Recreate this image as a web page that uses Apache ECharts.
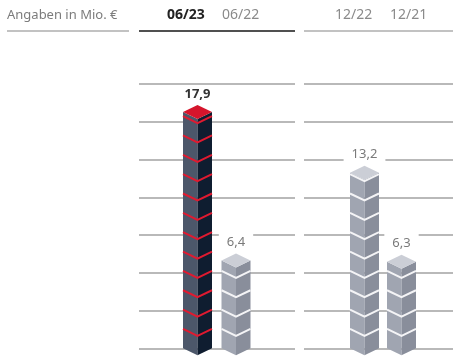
<!DOCTYPE html>
<html>
<head>
<meta charset="utf-8">
<script src="https://cdn.jsdelivr.net/npm/echarts@6/dist/echarts.min.js"></script>
<style>
html,body{margin:0;padding:0;background:#fff;}
#chart{width:453px;height:363px;}
</style>
</head>
<body>
<div id="chart"></div>
<script>
// ---- data ----
const unitLabel = 'Angaben in Mio. €';
const catsH1 = ['06/23', '06/22'];
const valsH1 = [17.9, 6.4];
const catsFY = ['12/22', '12/21'];
const valsFY = [13.2, 6.3];
const gridSteps = 7;        // decorative horizontal rules (0..7)
const cubeValue = 1.5;      // value represented by one cube

// ---- styles ----
const FONT = '"Noto Sans", "Open Sans", sans-serif';
const darkCube = { left: '#4c576a', right: '#0f1d30', top: '#d5152c', seam: '#e01a30', label: '#333333', bold: true, box: false };
const lightCube = { left: '#a0a5b1', right: '#898e9b', top: '#cbced6', seam: '#f4f4f6', label: '#7a7a7a', bold: false, box: true };
const palH1 = [darkCube, lightCube];
const palFY = [lightCube, lightCube];

function fmt(v) { return v.toFixed(1).replace('.', ','); }

function makeRender(palette) {
  return function (params, api) {
    const p = palette[params.dataIndex];
    const v = api.value(1);
    const pt = api.coord([api.value(0), v]);
    const cs = params.coordSys;
    const baseY = cs.y + cs.height;
    const step = api.size([0, cubeValue])[1];
    const hw = 14.5, d = 7;
    const x = pt[0], yt = pt[1];
    const topV = yt - d;
    const children = [];
    const labelEl = {
      type: 'text',
      style: {
        text: fmt(v), x: x, y: topV, align: 'center', verticalAlign: 'bottom',
        fill: p.label, font: (p.bold ? 'bold ' : '') + '13px ' + FONT,
        lineHeight: 16, padding: [3, 8, 3, 8],
        backgroundColor: p.box ? '#ffffff' : null
      }
    };
    if (p.box) children.push(labelEl);
    children.push({ type: 'polygon', shape: { points: [[x - hw, yt], [x, yt + d], [x, baseY + d], [x - hw, baseY]] }, style: { fill: p.left } });
    children.push({ type: 'polygon', shape: { points: [[x, yt + d], [x + hw, yt], [x + hw, baseY], [x, baseY + d]] }, style: { fill: p.right } });
    for (let k = 1; baseY - k * step > yt + 1; k++) {
      const y = baseY - k * step;
      children.push({ type: 'polyline', shape: { points: [[x - hw, y], [x, y + d], [x + hw, y]] }, style: { stroke: p.seam, lineWidth: 2, fill: null } });
    }
    children.push({ type: 'polygon', shape: { points: [[x, yt - d], [x + hw, yt], [x, yt + d], [x - hw, yt]] }, style: { fill: p.top } });
    if (!p.box) children.push(labelEl);
    return { type: 'group', children: children };
  };
}

const GT = 84, GH = 264.3;
const ruleAxis = (gi) => ({
  gridIndex: gi, type: 'value', min: 0, max: gridSteps, interval: 1,
  axisLine: { show: false }, axisTick: { show: false }, axisLabel: { show: false },
  splitLine: { show: true, lineStyle: { color: '#a2a2a2', width: 1.5 } }
});
const valAxis = (gi) => ({ gridIndex: gi, type: 'value', min: -0.41, max: 20.08, show: false, splitLine: { show: false } });

const chart = echarts.init(document.getElementById('chart'), null, { renderer: 'canvas' });
chart.setOption({
  animation: false,
  backgroundColor: '#ffffff',
  grid: [
    { left: 139, top: GT, width: 156, height: GH },
    { left: 304, top: GT, width: 149, height: GH },
    { left: 178.25, top: GT, width: 77, height: GH },
    { left: 346, top: GT, width: 74, height: GH }
  ],
  xAxis: [
    { gridIndex: 0, type: 'value', min: 0, max: 1, show: false },
    { gridIndex: 1, type: 'value', min: 0, max: 1, show: false },
    { gridIndex: 2, type: 'category', data: catsH1, show: false },
    { gridIndex: 3, type: 'category', data: catsFY, show: false }
  ],
  yAxis: [ruleAxis(0), ruleAxis(1), valAxis(2), valAxis(3)],
  series: [
    { type: 'custom', xAxisIndex: 2, yAxisIndex: 2, renderItem: makeRender(palH1), data: valsH1.map((v, i) => [i, v]), encode: { x: 0, y: 1 }, clip: false },
    { type: 'custom', xAxisIndex: 3, yAxisIndex: 3, renderItem: makeRender(palFY), data: valsFY.map((v, i) => [i, v]), encode: { x: 0, y: 1 }, clip: false }
  ],
  graphic: [
    { type: 'text', left: 7, top: 9, style: { text: unitLabel, fill: '#7c7c7c', font: '13px ' + FONT } },
    { type: 'line', shape: { x1: 7, y1: 31, x2: 129, y2: 31 }, style: { stroke: '#c2c2c2', lineWidth: 2 } },
    { type: 'text', left: 167, top: 8, style: { text: catsH1[0], fill: '#222222', font: 'bold 14px ' + FONT } },
    { type: 'text', left: 222, top: 8, style: { text: catsH1[1], fill: '#8a8a8a', font: '14px ' + FONT } },
    { type: 'line', shape: { x1: 139, y1: 31, x2: 295, y2: 31 }, style: { stroke: '#505050', lineWidth: 2 } },
    { type: 'text', left: 335, top: 8, style: { text: catsFY[0], fill: '#8a8a8a', font: '14px ' + FONT } },
    { type: 'text', left: 390, top: 8, style: { text: catsFY[1], fill: '#8a8a8a', font: '14px ' + FONT } },
    { type: 'line', shape: { x1: 304, y1: 31, x2: 453, y2: 31 }, style: { stroke: '#c2c2c2', lineWidth: 2 } }
  ]
});
</script>
</body>
</html>
